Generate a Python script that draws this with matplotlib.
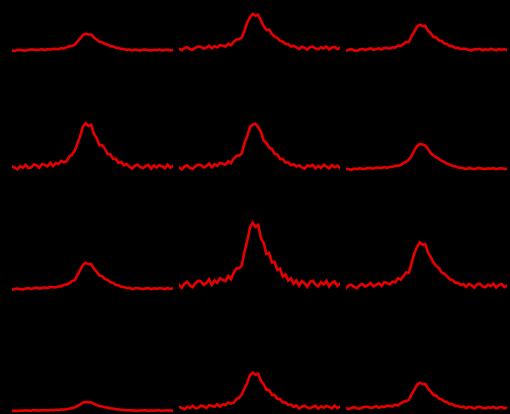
import numpy as np
import matplotlib.pyplot as plt

# intensity above each row's baseline, one list per panel (row, column)
r1c1 = [0.5, 0.0, 0.8, 1.1, 0.5, 0.3, 1.0, 1.4, 1.3, 0.8, 1.1, 1.8, 0.9, 1.7, 1.3, 2.1, 1.9, 1.7, 2.7, 2.4,
        3.7, 4.7, 5.1, 6.1, 9.5, 12.6, 15.9, 17.2, 16.3, 16.4, 13.4, 11.5, 9.2, 8.8, 6.9, 6.4, 4.9, 4.5, 3.2, 3.0,
        2.0, 1.9, 1.1, 1.4, 0.55, 1.3, 0.95, 0.35, 1.2, 1.35, 0.7, 0.45, 1.1, 0.75, 1.35, 0.4, 1.0, 1.25, 0.5, 0.9]
r1c2 = [2.2, 0.7, 2.9, 3.8, 1.8, 1.1, 3.1, 4.4, 4.1, 2.3, 3.2, 5.2, 2.6, 4.7, 3.5, 5.8, 5.2, 4.4, 7.1, 5.6,
        9.1, 11.4, 11.8, 13.5, 20.5, 28.5, 33.6, 37.0, 35.2, 36.1, 30.2, 24.8, 20.9, 21.3, 17.0, 14.5, 12.9, 10.1, 9.4, 7.0,
        6.8, 4.4, 5.1, 3.6, 1.9, 4.2, 3.1, 1.3, 3.9, 4.3, 2.4, 1.6, 3.6, 2.5, 4.3, 1.5, 3.3, 4.0, 1.8, 3.0]
r1c3 = [0.1, 1.3, 1.6, 0.6, 0.1, 1.5, 2.0, 0.9, 1.7, 2.6, 1.1, 1.8, 2.6, 1.4, 3.2, 2.8, 2.2, 3.6, 3.3, 5.3,
        4.9, 6.8, 8.8, 9.0, 14.6, 19.2, 24.3, 26.2, 24.8, 25.1, 20.4, 17.7, 14.0, 13.5, 10.5, 9.9, 7.5, 6.9, 4.8, 4.6,
        3.0, 3.0, 1.8, 2.3, 1.93, 0.94, 0.4, 1.84, 1.48, 2.11, 0.58, 1.66, 0.76, 2.2, 1.39, 0.49, 2.02, 1.03, 1.75, 0.67]
r2c1 = [3.5, 2.3, 0.6, 3.8, 2.2, 5.0, 1.9, 2.5, 5.5, 4.5, 2.2, 5.8, 5.0, 3.6, 7.1, 3.9, 6.8, 6.0, 9.1, 7.7,
        8.7, 13.5, 15.2, 19.5, 26.5, 34.0, 43.5, 46.8, 44.0, 45.2, 36.1, 32.0, 24.6, 24.9, 21.2, 16.0, 15.6, 11.1, 11.2, 7.1,
        8.0, 4.6, 5.9, 3.3, 1.45, 4.25, 5.25, 2.85, 1.85, 3.85, 5.05, 1.25, 4.45, 2.45, 4.85, 3.65, 1.65, 5.25, 2.25, 4.05]
r2c2 = [2.5, 0.5, 3.4, 4.6, 2.0, 1.0, 3.7, 5.3, 4.9, 2.5, 3.8, 6.4, 2.8, 5.6, 4.1, 7.1, 6.2, 5.2, 8.7, 6.7,
        11.1, 14.1, 14.4, 16.5, 27.0, 33.9, 43.0, 45.4, 46.3, 42.8, 38.2, 29.5, 27.0, 22.4, 21.0, 16.1, 15.3, 11.0, 10.9, 7.4,
        7.5, 4.8, 5.6, 3.5, 4.65, 2.45, 1.25, 4.45, 3.65, 5.05, 1.65, 4.05, 2.05, 5.25, 3.45, 1.45, 4.85, 2.65, 4.25, 1.85]
r2c3 = [1.0, 0.7, 0.2, 1.3, 0.9, 1.8, 0.9, 1.1, 2.1, 1.9, 1.2, 2.4, 2.2, 1.9, 2.9, 2.1, 3.1, 3.0, 4.2, 4.1,
        4.9, 6.9, 8.1, 10.3, 14.1, 19.6, 23.7, 26.1, 25.4, 24.5, 21.0, 16.9, 14.5, 12.7, 11.2, 9.1, 8.0, 6.3, 5.4, 4.0,
        3.6, 2.4, 2.3, 1.6, 0.94, 1.84, 1.42, 0.7, 1.72, 1.9, 1.12, 0.82, 1.6, 1.18, 1.9, 0.76, 1.48, 1.78, 0.88, 1.36]
r3c1 = [-0.8, 0.1, 0.4, -0.2, -0.5, 0.5, 0.8, 0.1, 0.7, 1.4, 0.4, 0.9, 1.5, 0.8, 2.0, 1.8, 1.6, 2.5, 2.5, 4.2,
        4.3, 5.9, 7.9, 8.7, 14.1, 19.0, 24.2, 26.2, 24.9, 25.0, 20.3, 17.2, 13.5, 12.9, 10.0, 9.1, 6.8, 6.1, 4.1, 3.7,
        2.2, 2.0, 0.9, 1.2, -0.19, 0.65, 0.95, 0.23, -0.07, 0.53, 0.89, -0.25, 0.71, 0.11, 0.83, 0.47, -0.13, 0.95, 0.05, 0.59]
r3c2 = [4.2, 1.2, 5.4, 7.2, 3.3, 1.8, 5.8, 8.2, 7.6, 4.0, 5.8, 9.7, 4.3, 8.6, 6.2, 10.7, 9.2, 7.8, 12.9, 9.7,
        16.1, 20.5, 20.6, 23.5, 37.5, 48.0, 61.5, 66.2, 62.0, 64.0, 50.9, 46.0, 35.0, 36.0, 26.5, 27.0, 19.0, 20.3, 12.6, 14.5,
        8.4, 10.6, 5.2, 8.5, 3.35, 7.85, 5.75, 2.15, 7.25, 8.15, 4.25, 2.75, 6.65, 4.55, 8.15, 2.45, 6.05, 7.55, 3.05, 5.45]
r3c3 = [0.9, 3.5, 4.2, 2.0, 0.8, 3.8, 4.9, 2.3, 3.9, 5.9, 2.6, 4.0, 5.8, 3.0, 6.9, 5.9, 4.6, 7.4, 6.5, 10.7,
        9.3, 12.9, 16.6, 16.1, 26.0, 35.5, 42.0, 46.5, 44.2, 44.9, 36.5, 31.9, 26.4, 23.0, 20.9, 16.5, 15.2, 12.6, 9.6, 9.0,
        6.2, 6.2, 4.0, 4.9, 2.05, 5.05, 3.65, 1.25, 4.65, 5.25, 2.65, 1.65, 4.25, 2.85, 5.25, 1.45, 3.85, 4.85, 1.85, 3.45]
r4c1 = [-0.62, -0.75, -0.96, -0.54, -0.72, -0.35, -0.73, -0.64, -0.23, -0.34, -0.62, -0.15, -0.23, -0.39, 0.06, -0.3, 0.09, 0.03, 0.49, 0.4,
        0.66, 1.4, 1.82, 2.6, 4.0, 5.6, 7.4, 8.1, 7.6, 7.7, 6.1, 5.1, 3.8, 3.6, 2.7, 2.4, 1.6, 1.4, 0.7, 0.6,
        0.1, 0.0, -0.35, -0.25, -0.38, -0.65, -0.8, -0.4, -0.5, -0.33, -0.75, -0.45, -0.7, -0.3, -0.53, -0.78, -0.35, -0.63, -0.43, -0.73]
r4c2 = [2.9, 2.1, 0.7, 3.2, 2.0, 4.1, 1.8, 2.2, 4.5, 3.8, 2.0, 4.8, 4.2, 3.2, 5.7, 3.4, 5.6, 5.0, 7.4, 6.4,
        7.2, 10.9, 12.3, 15.7, 21.6, 27.2, 35.0, 37.3, 35.3, 36.2, 29.0, 25.9, 20.1, 20.0, 15.2, 15.0, 11.0, 11.1, 7.5, 7.6,
        5.0, 5.5, 3.1, 4.4, 1.45, 3.55, 4.3, 2.5, 1.75, 3.25, 4.15, 1.3, 3.7, 2.2, 4.0, 3.1, 1.6, 4.3, 2.05, 3.4]
r4c3 = [1.8, 0.9, 2.2, 2.8, 1.7, 1.3, 2.5, 3.2, 3.1, 2.1, 2.6, 3.9, 2.3, 3.6, 2.9, 4.3, 4.0, 3.6, 5.3, 4.5,
        6.7, 8.3, 8.8, 10.2, 15.6, 20.2, 25.3, 27.2, 25.9, 26.1, 21.4, 18.6, 15.0, 14.5, 11.5, 10.8, 8.5, 7.9, 5.9, 5.6,
        4.0, 4.0, 2.8, 3.3, 1.76, 3.11, 2.48, 1.4, 2.93, 3.2, 2.03, 1.58, 2.75, 2.12, 3.2, 1.49, 2.57, 3.02, 1.67, 2.39]

panels = [[r1c1, r1c2, r1c3],
          [r2c1, r2c2, r2c3],
          [r3c1, r3c2, r3c3],
          [r4c1, r4c2, r4c3]]

W, H = 510, 414
col_left = [12, 179, 346]       # px from left
row_base = [51, 170, 289, 410]  # baseline px from top
panel_w = 161
panel_h = 100

# tiny extra so the pixel size doesn't round down to 509
fig = plt.figure(figsize=(W / 100 + 0.001, H / 100 + 0.001), dpi=100, facecolor="black")

for r, row in enumerate(panels):
    for c, vals in enumerate(row):
        bottom = H - (row_base[r] + 5)
        ax = fig.add_axes([col_left[c] / W, bottom / H, panel_w / W, panel_h / H])
        ax.set_facecolor("none")
        x = np.arange(len(vals))
        ax.plot(x, vals, color="#e60000", lw=1.9, solid_joinstyle="miter")
        ax.set_xlim(0, len(vals) - 1)
        ax.set_ylim(-5, 95)
        ax.axis("off")

fig.savefig("out.png", dpi=100, facecolor="black")
